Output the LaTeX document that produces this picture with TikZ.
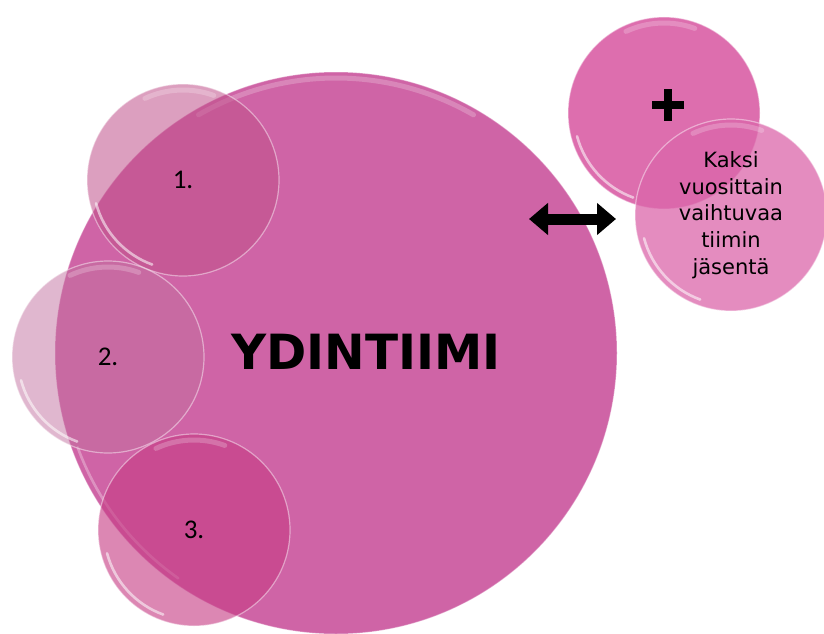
\documentclass[tikz,border=0pt]{standalone}
\usepackage{fontspec}
\setmainfont{DejaVu Sans}
\newfontfamily\numfont{Carlito}
\usetikzlibrary{arrows.meta}
\definecolor{bigpink}{HTML}{CF64A6}
\definecolor{smallpink}{HTML}{C0508A}
\definecolor{greypink}{HTML}{C2709F}
\definecolor{deeppink}{HTML}{C63D85}
\definecolor{toppink}{HTML}{DB66AA}
\tikzset{
  bubble/.style={circle, minimum size=192pt, inner sep=0pt, font=\numfont\fontsize{27}{30}\selectfont,
    draw=white, draw opacity=0.45, line width=1.2pt},
  shine/.style={white, line width=2.6pt, line cap=round, opacity=0.55},
  softshine/.style={white, line width=5pt, line cap=round, opacity=0.22},
}
\newcommand{\gloss}[2]{%
  \draw[shine] ([shift={(195:#2)}]#1.center) arc[start angle=195, end angle=250, radius=#2];
  \draw[softshine] ([shift={(70:#2)}]#1.center) arc[start angle=70, end angle=115, radius=#2];
}
\begin{document}
\begin{tikzpicture}[x=1pt,y=-1pt]
\useasboundingbox (0,0) rectangle (824,634);
% big circle
\node[circle, minimum size=562pt, inner sep=0pt, fill=bigpink, draw=white, draw opacity=0.35, line width=1pt] (big) at (336,353) {};
\draw[softshine] ([shift={(60:275pt)}]big.center) arc[start angle=60, end angle=120, radius=275pt];
\draw[shine, opacity=0.3] ([shift={(200:275pt)}]big.center) arc[start angle=200, end angle=235, radius=275pt];
\node[font=\bfseries\fontsize{48.5}{52}\selectfont] (yd) at (366,352) {YDINTIIMI};
% small circles
\node[bubble, fill=smallpink, fill opacity=0.55, text opacity=1] (c1) at (183,180) {1.};
\gloss{c1}{90pt}
\node[bubble, fill=greypink, fill opacity=0.5, text opacity=1] (c2) at (108,357) {2.};
\gloss{c2}{90pt}
\node[bubble, fill=deeppink, fill opacity=0.62, text opacity=1] (c3) at (194,530) {3.};
\gloss{c3}{90pt}
% top right circles
\node[bubble, fill=toppink, fill opacity=0.95, text opacity=1] (plus) at (664,113) {};
\gloss{plus}{90pt}
\coordinate (pc) at (668,105);
\draw[line width=7.5pt] ([xshift=-16pt]pc) -- ([xshift=16pt]pc);
\draw[line width=7.5pt] ([yshift=16pt]pc) -- ([yshift=-16pt]pc);
\node[bubble, fill=toppink, fill opacity=0.75, text opacity=1, align=center,
  font=\fontsize{21}{26.7}\selectfont] (team) at (731,215) {Kaksi\\vuosittain\\vaihtuvaa\\tiimin\\jäsentä};
\gloss{team}{90pt}
% double arrow
\coordinate (al) at (529,219);
\coordinate (ar) at (616,219);
\draw[line width=11pt, {Triangle[length=19pt,width=31pt]}-{Triangle[length=19pt,width=31pt]}] (al) -- (ar);
\end{tikzpicture}
\end{document}
